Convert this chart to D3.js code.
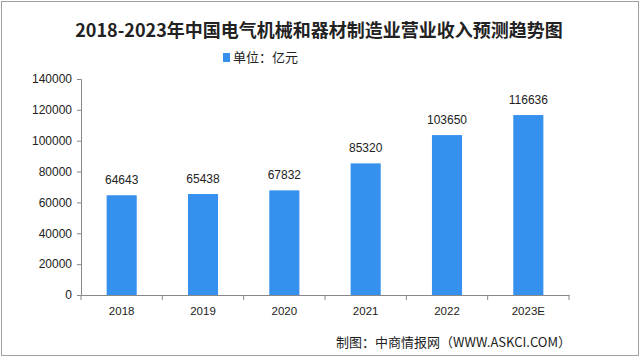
<!DOCTYPE html>
<html><head><meta charset="utf-8">
<script src="https://cdn.jsdelivr.net/npm/d3@7"></script>
<style>body{margin:0;background:#fff}svg{display:block}</style>
</head><body>
<svg id="c" width="640" height="357"></svg>
<script>
const categories = ["2018","2019","2020","2021","2022","2023E"];
const values = [64643,65438,67832,85320,103650,116636];
const yTicks = [0,20000,40000,60000,80000,100000,120000,140000];
const title = "2018-2023年中国电气机械和器材制造业营业收入预测趋势图";
const legendLabel = "单位：亿元";
const source = "制图：中商情报网（WWW.ASKCI.COM）";

const svg = d3.select("#c");
const W = 640, H = 357;
const m = {left:81, right:71, top:79, bottom:62};
const x = d3.scaleBand().domain(categories).range([m.left, W - m.right]).paddingInner(0.63).paddingOuter(0.315);
const y = d3.scaleLinear().domain([0,140000]).range([H - m.bottom, m.top]);
const blue = "#3590ee";
const font = "'Liberation Sans', Arial, sans-serif";
const cjk = "'Noto Sans CJK SC', sans-serif";

svg.append("rect").attr("x",1.5).attr("y",1.5).attr("width",W-3).attr("height",H-3)
  .attr("fill","#fff").attr("stroke","#a0a0a0");

svg.append("text").attr("x",319).attr("y",37).attr("text-anchor","middle")
  .attr("font-family",cjk).attr("font-weight","bold").attr("font-size",18).attr("fill","#222").text(title);

svg.append("rect").attr("x",223).attr("y",53).attr("width",7).attr("height",9).attr("fill",blue);
svg.append("text").attr("x",233).attr("y",62).attr("font-family",cjk).attr("font-size",13).attr("fill","#222").text(legendLabel);

// y axis
const ya = svg.append("g").attr("transform",`translate(${m.left},0)`)
  .call(d3.axisLeft(y).tickValues(yTicks).tickSize(4).tickPadding(5).tickFormat(d3.format("d")));
ya.select(".domain").attr("stroke","#888");
ya.selectAll(".tick line").attr("stroke","#888");
ya.selectAll("text").attr("font-family",font).attr("font-size",12).attr("fill","#222");

// x axis
const xa = svg.append("g").attr("transform",`translate(0,${y(0)})`)
  .call(d3.axisBottom(x).tickSize(0).tickPadding(12));
xa.select(".domain").attr("stroke","#888");
xa.selectAll("text").attr("font-family",font).attr("font-size",11.5).attr("fill","#222");
const step = x.step();
const bounds = categories.map((c,i)=> m.left + i*step).concat([W - m.right]);
svg.append("g").selectAll("line").data(bounds).join("line")
  .attr("x1",d=>d).attr("x2",d=>d).attr("y1",y(0)).attr("y2",y(0)+5).attr("stroke","#888");

// bars
svg.append("g").selectAll("rect").data(values).join("rect")
  .attr("x",(d,i)=>x(categories[i])).attr("width",x.bandwidth())
  .attr("y",d=>y(d)).attr("height",d=>y(0)-y(d)).attr("fill",blue);

svg.append("g").selectAll("text").data(values).join("text")
  .attr("x",(d,i)=>x(categories[i])+x.bandwidth()/2).attr("y",d=>y(d)-11)
  .attr("text-anchor","middle").attr("font-family",font).attr("font-size",12).attr("fill","#222")
  .text(d=>d);

svg.append("text").attr("x",571).attr("y",347).attr("text-anchor","end")
  .attr("font-family",cjk).attr("font-size",13).attr("fill","#222").text(source);
</script>
</body></html>
